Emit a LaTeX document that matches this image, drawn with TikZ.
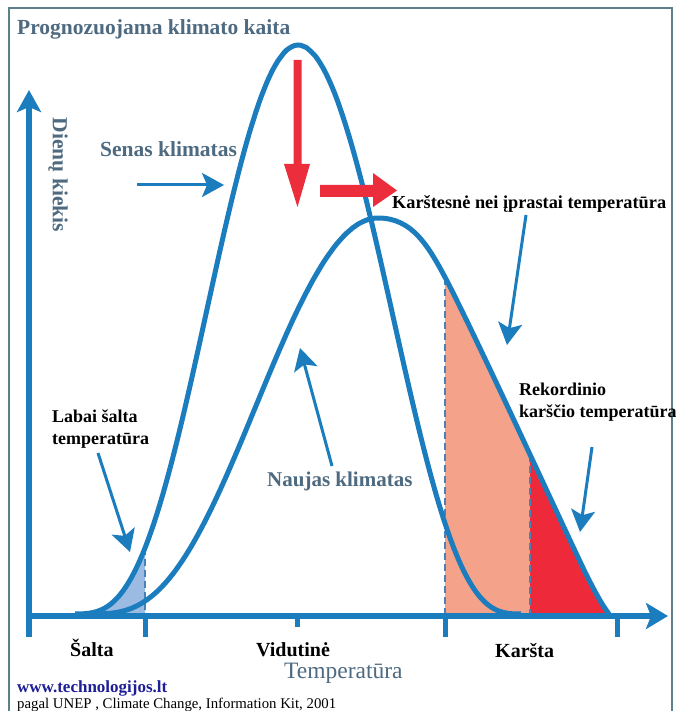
\documentclass[tikz,border=0pt]{standalone}
\usepackage{fontspec}
\setmainfont{Liberation Serif}
\usetikzlibrary{arrows.meta}
\definecolor{cblue}{RGB}{27,125,190}
\definecolor{slate}{RGB}{78,106,128}
\definecolor{framec}{RGB}{90,128,140}
\definecolor{redarr}{RGB}{236,45,60}
\definecolor{salmon}{RGB}{245,162,138}
\definecolor{hotred}{RGB}{238,42,58}
\definecolor{iceblue}{RGB}{156,187,226}
\definecolor{webblue}{RGB}{30,30,150}
\definecolor{dashblue}{RGB}{70,130,185}
\newcommand\oldcurve{plot[domain=75:298,samples=80] (\x,{614-569*(1-((\x-298)/228)*((\x-298)/228))^3.6}) -- plot[domain=298:521,samples=80] (\x,{614-569*(1-((\x-298)/225)*((\x-298)/225))^3.3})}
\newcommand\newcurve{plot[domain=97:378,samples=90] (\x,{614-396*(1-((\x-378)/290)*((\x-378)/290))^3.3}) .. controls (412,218) and (428,245) .. (447,281) .. controls (480,345) and (560,520) .. (585,572) .. controls (595,592) and (602,605) .. (609,614)}
\tikzset{
  curve/.style={cblue,line width=5pt,line join=round},
  axis/.style={cblue,line width=6pt},
  tick/.style={cblue,line width=5pt},
  thr/.style={dashblue,line width=2pt,dash pattern=on 7pt off 4pt},
  note/.style={cblue,line width=3pt,-{Stealth[length=22pt,width=24pt,inset=5pt]}},
  redblock/.style={fill=redarr,draw=none},
  lbl/.style={inner sep=0pt,font=\fontsize{18}{22}\selectfont\bfseries,text=black},
  slatelbl/.style={inner sep=0pt,font=\fontsize{21.5}{24}\selectfont\bfseries,text=slate},
  axlbl/.style={inner sep=0pt,font=\fontsize{20}{24}\selectfont\bfseries,text=black},
}
\begin{document}
\begin{tikzpicture}[x=1pt,y=-1pt]
\useasboundingbox (0,0) rectangle (676,711);
\fill[white] (0,0) rectangle (676,711);
% frame
\draw[framec,line width=2pt] (9,711) -- (9,8) -- (672,8) -- (672,711);
% fills
\begin{scope}
  \clip (0,0) rectangle (145,616);
  \fill[iceblue] \oldcurve -- (521,614) -- (75,614) -- cycle;
\end{scope}
\begin{scope}
  \clip (445,0) rectangle (530,616);
  \fill[salmon] \newcurve -- (97,614) -- cycle;
\end{scope}
\begin{scope}
  \clip (530,0) rectangle (640,616);
  \fill[hotred] \newcurve -- (97,614) -- cycle;
\end{scope}
% thresholds
\coordinate (c1t) at (145,548); \coordinate (c1b) at (145,614);
\coordinate (h1t) at (445,278); \coordinate (h1b) at (445,614);
\coordinate (h2t) at (530,455); \coordinate (h2b) at (530,614);
\draw[thr] (c1t) -- (c1b);
\draw[thr] (h1t) -- (h1b);
\draw[thr] (h2t) -- (h2b);
% curves
\draw[curve] \oldcurve;
\draw[curve] \newcurve;
% axes
\coordinate (ybot) at (29,637);
\coordinate (ytop) at (29,90);
\coordinate (xl) at (26,616);
\coordinate (xr) at (668,616);
\draw[axis,-{Stealth[length=22pt,width=24pt,inset=5pt]}] (ybot) -- (ytop);
\draw[axis,-{Stealth[length=22pt,width=26pt,inset=5pt]}] (xl) -- (xr);
\coordinate (t1) at (145,616); \coordinate (t1b) at (145,637);
\coordinate (t2) at (297,616); \coordinate (t2b) at (297,627);
\coordinate (t3) at (445,616); \coordinate (t3b) at (445,637);
\coordinate (t4) at (617,616); \coordinate (t4b) at (617,637);
\draw[tick] (t1) -- (t1b);
\draw[tick] (t2) -- (t2b);
\draw[tick] (t3) -- (t3b);
\draw[tick] (t4) -- (t4b);
% red arrows
\fill[redblock] (293.5,60) -- (301.5,60) -- (301.5,164) -- (310,164) -- (297.5,207) -- (284,164) -- (293.5,164) -- cycle;
\fill[redblock] (320,185) -- (373,185) -- (373,173) -- (397,190.5) -- (373,207) -- (373,197) -- (320,197) -- cycle;
% texts
\node[inner sep=0pt,anchor=base west,font=\fontsize{21.5}{24}\selectfont\bfseries,text=slate] (title) at (17,35) {Prognozuojama klimato kaita};
\node[inner sep=0pt,rotate=-90,font=\fontsize{21.5}{24}\selectfont\bfseries,text=slate] (ylab) at (58,175) {Dienų kiekis};
\node[slatelbl,anchor=base west] (senas) at (100,157) {Senas klimatas};
\node[slatelbl,anchor=base west,font=\fontsize{21}{24}\selectfont\bfseries] (naujas) at (267,486) {Naujas klimatas};
\node[lbl,anchor=base west,font=\fontsize{18.3}{22}\selectfont\bfseries] (karst) at (392,209) {Karštesnė nei įprastai temperatūra};
\node[lbl,anchor=base west] (rekord) at (519,395) {\begin{tabular}[t]{@{}l@{}}Rekordinio\\karščio temperatūra\end{tabular}};
\node[lbl,anchor=base west] (labai) at (52,422) {\begin{tabular}[t]{@{}l@{}}Labai šalta\\temperatūra\end{tabular}};
\node[axlbl,anchor=base west] (salta) at (70,656) {Šalta};
\node[axlbl,anchor=base west] (vid) at (256,656) {Vidutinė};
\node[axlbl,anchor=base west] (karsta) at (495,657) {Karšta};
\node[inner sep=0pt,anchor=base west,font=\fontsize{23.5}{26}\selectfont,text=slate] (temp) at (284,678) {Temperatūra};
\node[inner sep=0pt,anchor=base west,font=\fontsize{17}{20}\selectfont\bfseries,text=webblue] (web) at (17,692) {www.technologijos.lt};
\node[inner sep=0pt,anchor=base west,font=\fontsize{14.8}{17}\selectfont,text=black] (src) at (17,708) {pagal UNEP , Climate Change, Information Kit, 2001};
% annotation arrows
\coordinate (senasS) at (137,185); \coordinate (senasE) at (224,185);
\draw[note] (senasS) -- (senasE);
\coordinate (naujS) at (332,466); \coordinate (naujE) at (300,348);
\draw[note] (naujS) -- (naujE);
\coordinate (karstS) at (526,215); \coordinate (karstE) at (507,345);
\draw[note] (karstS) -- (karstE);
\coordinate (rekS) at (592,447); \coordinate (rekE) at (580,532);
\draw[note] (rekS) -- (rekE);
\coordinate (labS) at (98,453); \coordinate (labE) at (130,552);
\draw[note] (labS) -- (labE);
\end{tikzpicture}
\end{document}
